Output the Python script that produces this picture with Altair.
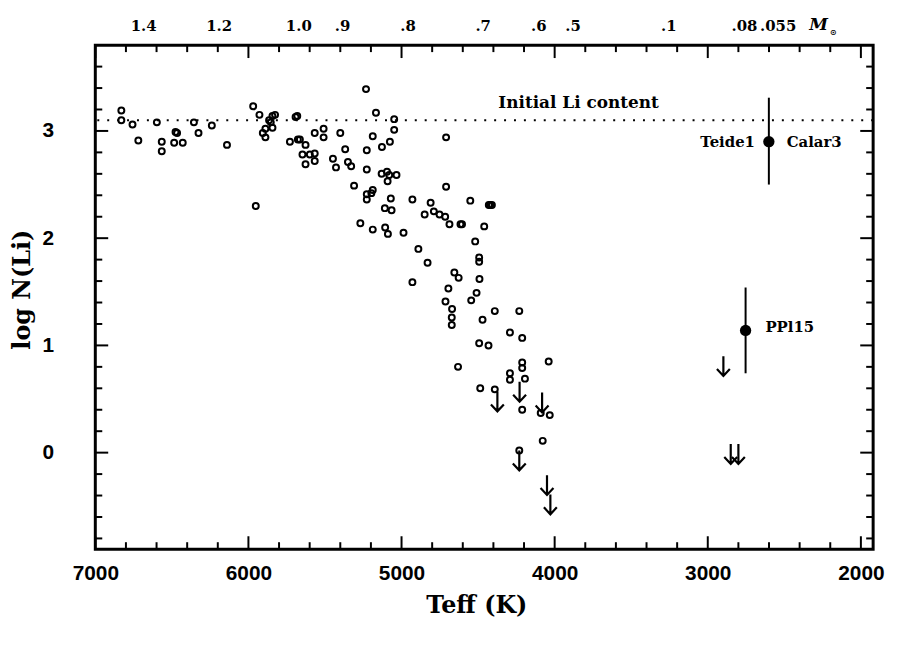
import altair as alt
import pandas as pd
import numpy as np

# ---------------- data ----------------
# open circles: effective temperature (K) and log N(Li)
teff_open = [6830, 6830, 6757, 6719, 6598, 6566, 6566, 6485, 6466, 6476, 6429, 6356, 6326, 6239, 6140,
             5969, 5952, 5928, 5906, 5889, 5889, 5854, 5843, 5843, 5826, 5865, 5681, 5692, 5729, 5677,
             5664, 5627, 5647, 5627, 5599, 5567, 5567, 5567, 5509, 5509, 5448, 5428, 5400, 5232, 5167,
             5048, 5048, 5188, 5076, 5128, 5368, 5227, 5350, 5329, 5227, 5130, 5095, 5080, 5033, 5091,
             5310, 5188, 5227, 5197, 5227, 5070, 4929, 4810, 4551, 4709, 4709, 4430, 4421, 4410, 5109,
             5065, 4849, 4789, 4752, 4715, 4687, 4615, 4605, 4460, 5269, 5188, 5107, 5089, 4987, 4519,
             4890, 4493, 4493, 4830, 4655, 4627, 4491, 4929, 4694, 4510, 4713, 4545, 4670, 4672, 4672,
             4471, 4391, 4231, 4292, 4212, 4493, 4432, 4631, 4212, 4212, 4039, 4292, 4292, 4194, 4486,
             4391, 4212, 4091, 4032, 4078, 4231]
li_open = [3.19, 3.10, 3.06, 2.91, 3.08, 2.90, 2.81, 2.89, 2.98, 2.99, 2.89, 3.08, 2.98, 3.05, 2.87,
           3.23, 2.30, 3.15, 2.98, 3.02, 2.94, 3.08, 3.14, 3.03, 3.15, 3.10, 3.14, 3.13, 2.90, 2.92,
           2.92, 2.87, 2.78, 2.69, 2.78, 2.79, 2.72, 2.98, 3.02, 2.94, 2.74, 2.66, 2.98, 3.39, 3.17,
           3.11, 3.01, 2.95, 2.90, 2.85, 2.83, 2.82, 2.71, 2.67, 2.64, 2.60, 2.62, 2.59, 2.59, 2.53,
           2.49, 2.45, 2.41, 2.42, 2.36, 2.37, 2.36, 2.33, 2.35, 2.94, 2.48, 2.31, 2.31, 2.31, 2.28,
           2.26, 2.22, 2.25, 2.22, 2.20, 2.13, 2.13, 2.13, 2.11, 2.14, 2.08, 2.10, 2.04, 2.05, 1.97,
           1.90, 1.82, 1.78, 1.77, 1.68, 1.63, 1.62, 1.59, 1.53, 1.49, 1.41, 1.42, 1.34, 1.26, 1.19,
           1.24, 1.32, 1.32, 1.12, 1.07, 1.02, 1.00, 0.80, 0.84, 0.79, 0.85, 0.74, 0.68, 0.69, 0.60,
           0.59, 0.40, 0.37, 0.35, 0.11, 0.02]

# upper limits (arrows)
teff_lim = [4374, 4229, 4082, 4231, 4050, 4028, 2898, 2850, 2800]
li_lim = [0.57, 0.66, 0.56, 0.02, -0.21, -0.39, 0.90, 0.08, 0.08]

# brown dwarfs with error bars
bd_teff = [2601, 2753]
bd_li = [2.90, 1.14]
bd_lo = [2.50, 0.74]
bd_hi = [3.31, 1.54]

# labels of the brown dwarfs
bd_label_text = ["Teide1", "Calar3", "PPl15"]
bd_label_teff = [2601, 2601, 2753]
bd_label_li = [2.90, 2.90, 1.14]

initial_li = [3.1]
initial_label = ["Initial Li content"]
initial_label_teff = [3844]
initial_label_li = [3.26]

# mass scale on top
mass_labels = ["1.4", "1.2", "1.0", ".9", ".8", ".7", ".6", ".5", ".1", ".08", ".055"]
mass_teff = [6684, 6191, 5671, 5385, 4957, 4467, 4103, 3880, 3254, 2760, 2540]
msun_teff = [2215]

# axis ticks
x_major = [7000, 6000, 5000, 4000, 3000, 2000]
x_minor = [v for v in range(2000, 7001, 200) if v % 1000 != 0]
y_major = [0, 1, 2, 3]
y_minor = [round(v, 1) for v in np.arange(-0.8, 3.61, 0.2) if abs(v - round(v)) > 1e-6]

# ---------------- chart ----------------
W, H = 784, 508
xs = alt.Scale(domain=[7000, 1920], nice=False, zero=False)
ys = alt.Scale(domain=[-0.9, 3.8], nice=False, zero=False)
xaxis = alt.Axis(title="Teff (K)", values=x_major, format="d", labelFlush=False,
                 labelOverlap=False, labelPadding=14, titlePadding=10, titleX=W / 2 - 8)
yaxis = alt.Axis(title="log N(Li)", values=y_major, format="d", labelPadding=42,
                 titlePadding=8, labelOverlap=False, titleY=H / 2 - 8)

X = lambda f: alt.X(f, type="quantitative", scale=xs, axis=xaxis)
Y = lambda f: alt.Y(f, type="quantitative", scale=ys, axis=yaxis)

df_open = pd.DataFrame({"T": teff_open, "L": li_open})
df_lim = pd.DataFrame({"T": teff_lim, "L": li_lim})
df_bd = pd.DataFrame({"T": bd_teff, "L": bd_li, "lo": bd_lo, "hi": bd_hi})
df_bdlab = pd.DataFrame({"T": bd_label_teff, "L": bd_label_li, "t": bd_label_text})
df_init = pd.DataFrame({"L": initial_li})
df_initlab = pd.DataFrame({"T": initial_label_teff, "L": initial_label_li, "t": initial_label})
df_mass = pd.DataFrame({"T": mass_teff, "t": mass_labels})
df_msun = pd.DataFrame({"T": msun_teff})

layers = []

# tick marks (inward)
def xticks(vals, y0, y1):
    return alt.Chart(pd.DataFrame({"T": vals})).mark_rule(color="black", strokeWidth=2).encode(
        x=X("T"), y=alt.value(y0), y2=alt.value(y1))

def yticks(vals, x0, x1):
    return alt.Chart(pd.DataFrame({"L": vals})).mark_rule(color="black", strokeWidth=2).encode(
        y=Y("L"), x=alt.value(x0), x2=alt.value(x1))

MAJ, MIN = 13, 7
layers += [xticks(x_major, H, H - MAJ), xticks(x_minor, H, H - MIN),
           xticks(x_major, 0, MAJ), xticks(x_minor, 0, MIN),
           yticks(y_major, 0, MAJ), yticks(y_minor, 0, MIN),
           yticks(y_major, W, W - MAJ), yticks(y_minor, W, W - MIN)]

# initial Li dotted line
layers.append(alt.Chart(df_init).mark_rule(color="black", strokeWidth=2, strokeDash=[2, 8]).encode(y=Y("L")))

layers.append(alt.Chart(df_initlab).mark_text(font="DejaVu Serif", fontWeight="bold", fontSize=17,
                                              color="black", baseline="middle").encode(
    x=X("T"), y=Y("L"), text="t:N"))

# open circles
layers.append(alt.Chart(df_open).mark_point(shape="circle", filled=False, color="black",
                                            strokeWidth=2, size=36, opacity=1).encode(x=X("T"), y=Y("L")))

# upper-limit arrows
arrow = "M0,0L0,4M-1.3,2.6L0,4L1.3,2.6"
layers.append(alt.Chart(df_lim).mark_point(shape=arrow, filled=False, color="black",
                                           strokeWidth=2.2, size=100, opacity=1).encode(x=X("T"), y=Y("L")))

# brown dwarfs
layers.append(alt.Chart(df_bd).mark_rule(color="black", strokeWidth=2).encode(x=X("T"), y=Y("lo"), y2="hi:Q"))
layers.append(alt.Chart(df_bd).mark_point(shape="circle", filled=True, color="black",
                                          size=130, opacity=1).encode(x=X("T"), y=Y("L")))

lab_common = dict(font="DejaVu Serif", fontWeight="bold", fontSize=15, color="black", baseline="middle")
layers.append(alt.Chart(df_bdlab).transform_filter("datum.t == 'Teide1'").mark_text(
    align="right", dx=-14, **lab_common).encode(x=X("T"), y=Y("L"), text="t:N"))
layers.append(alt.Chart(df_bdlab).transform_filter("datum.t == 'Calar3'").mark_text(
    align="left", dx=18, **lab_common).encode(x=X("T"), y=Y("L"), text="t:N"))
layers.append(alt.Chart(df_bdlab).transform_filter("datum.t == 'PPl15'").mark_text(
    align="left", dx=20, dy=-3, **lab_common).encode(x=X("T"), y=Y("L"), text="t:N"))

# mass labels on top
layers.append(alt.Chart(df_mass).mark_text(font="DejaVu Serif", fontWeight="bold", fontSize=15,
                                           color="black", baseline="middle").encode(
    x=X("T"), y=alt.value(-19), text="t:N"))
layers.append(alt.Chart(df_msun).mark_text(text="M", font="DejaVu Serif", fontWeight="bold",
                                           fontStyle="italic", fontSize=17, color="black",
                                           baseline="middle", align="right").encode(x=X("T"), y=alt.value(-20)))
layers.append(alt.Chart(df_msun).mark_text(text="⊙", font="DejaVu Sans", fontWeight="bold",
                                           fontSize=8, color="black", baseline="middle", align="left",
                                           dx=2).encode(x=X("T"), y=alt.value(-12)))

chart = alt.layer(*layers).properties(
    width=W, height=H, padding={"left": 2, "top": 6, "right": 5, "bottom": 5}
).configure_view(stroke="black", strokeWidth=3).configure_axis(
    grid=False, domain=False, ticks=False, tickSize=0,
    labelFont="Liberation Sans", labelFontWeight="bold", labelFontSize=21, labelColor="black",
    titleFont="DejaVu Serif", titleFontWeight="bold", titleFontSize=24, titleColor="black"
)

chart.save("out.html", embed_options={"renderer": "svg", "actions": False})
